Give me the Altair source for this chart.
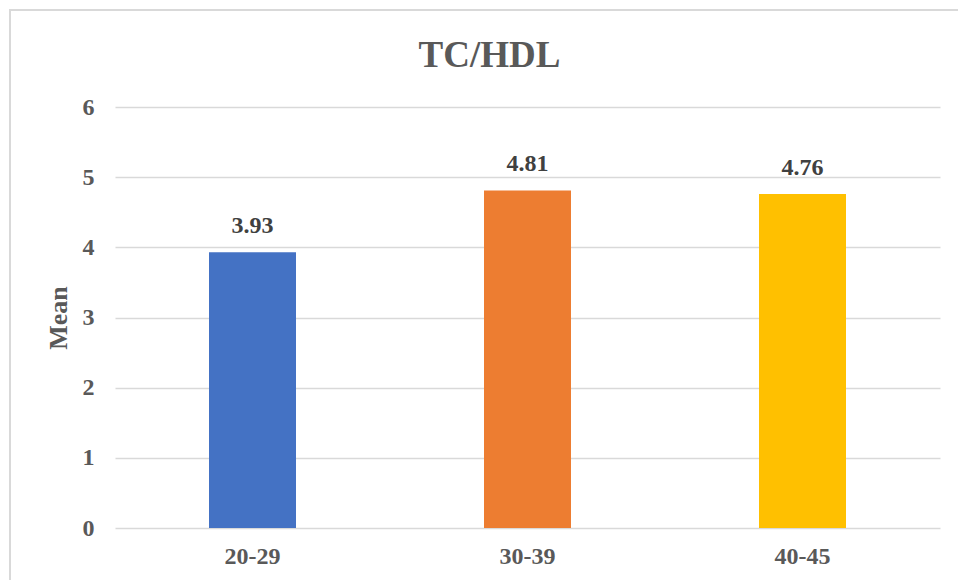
import altair as alt
import pandas as pd

# Mean TC/HDL ratio by age group
age_groups = ["20-29", "30-39", "40-45"]
means = [3.93, 4.81, 4.76]
bar_colors = ["#4472C4", "#ED7D31", "#FFC000"]
y_ticks = [0, 1, 2, 3, 4, 5, 6]

df = pd.DataFrame({"age": age_groups, "mean": means, "color": bar_colors})

FONT = "Liberation Serif"
TEXT = "#595959"

x_enc = alt.X(
    "age:N",
    sort=age_groups,
    scale=alt.Scale(paddingInner=0, paddingOuter=0),
    axis=alt.Axis(
        title=None, labelAngle=0, ticks=False, domain=False, grid=False,
        labelFont=FONT, labelFontSize=24, labelFontWeight="bold",
        labelColor=TEXT, labelPadding=16,
    ),
)
y_enc = alt.Y(
    "mean:Q",
    scale=alt.Scale(domain=[0, 6], nice=False),
    axis=alt.Axis(
        title="Mean", values=y_ticks, format="d", ticks=False, domain=False,
        grid=True, gridColor="#D9D9D9", gridWidth=1.5,
        labelFont=FONT, labelFontSize=24, labelFontWeight="bold",
        labelColor=TEXT, labelPadding=21,
        titleFont=FONT, titleFontSize=26, titleFontWeight="bold",
        titleColor=TEXT, titlePadding=11,
    ),
)

bars = alt.Chart(df).mark_bar(size=87).encode(
    x=x_enc,
    y=y_enc,
    color=alt.Color("color:N", scale=None),
)

labels = alt.Chart(df).mark_text(
    font=FONT, fontSize=24, fontWeight="bold", color="#404040",
    baseline="alphabetic", dy=-19,
).encode(
    x=alt.X("age:N", sort=age_groups),
    y="mean:Q",
    text=alt.Text("mean:Q", format=".2f"),
)

# Light frame around the whole chart
frame = alt.Chart(alt.Data(values=[{}])).mark_rect(
    fill=None, stroke="#D9D9D9", strokeWidth=2
).encode(
    x=alt.value(-105), x2=alt.value(870),
    y=alt.value(-97), y2=alt.value(490),
)

# The title is laid out against the frame's top edge, so it sits inside it
chart = alt.layer(frame, bars, labels).properties(
    width=825,
    height=421,
    padding={"left": 115, "top": 107, "right": 18, "bottom": 52},
    autosize=alt.AutoSizeParams(type="none"),
    background="white",
    title=alt.TitleParams(
        "TC/HDL", font=FONT, fontSize=37, fontWeight="bold", color=TEXT,
        anchor="middle", frame="group", baseline="bottom", offset=-103, dx=-38,
    ),
).configure_view(strokeWidth=0, stroke="transparent")

chart.save("out.html", embed_options={"renderer": "svg", "actions": False})
